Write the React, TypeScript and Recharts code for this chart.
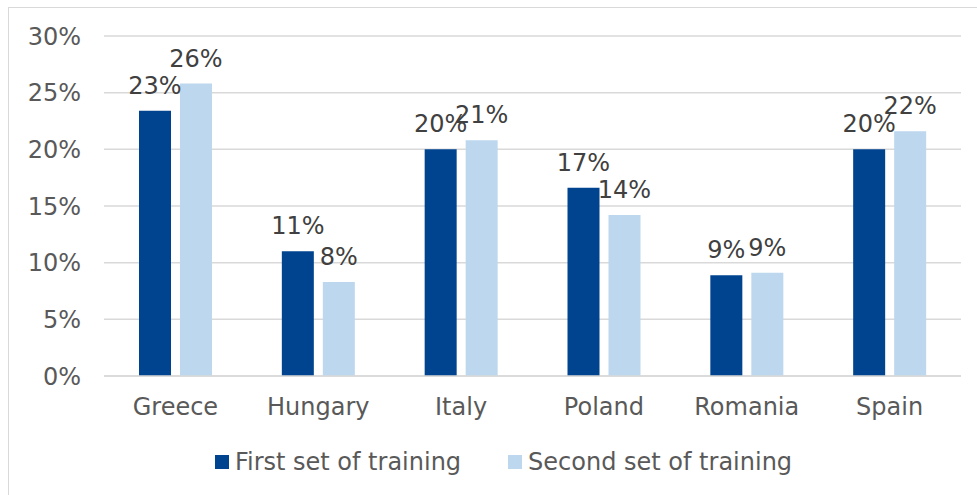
import { BarChart, Bar, XAxis, YAxis, CartesianGrid, Legend, LabelList } from "recharts";

// valori (percentuali)
const countries = ["Greece", "Hungary", "Italy", "Poland", "Romania", "Spain"];
const firstSet = [23.4, 11.0, 20.0, 16.6, 8.9, 20.0];
const secondSet = [25.8, 8.3, 20.8, 14.2, 9.1, 21.6];
const yTicks = [0, 5, 10, 15, 20, 25, 30];

const data = countries.map((name, i) => ({ name, first: firstSet[i], second: secondSet[i] }));

const DARK = "#00448f";
const LIGHT = "#bdd7ee";
const FONT = "'DejaVu Sans', Verdana, sans-serif";
const FS = 24;

function LegendBox() {
  const items = [
    { label: "First set of training", color: DARK },
    { label: "Second set of training", color: LIGHT },
  ];
  return (
    <div
      style={{
        height: 30,
        display: "flex",
        justifyContent: "center",
        alignItems: "center",
        gap: 47,
        fontFamily: FONT,
        fontSize: FS,
        color: "#595959",
        paddingLeft: 46,
      }}
    >
      {items.map((it) => (
        <div key={it.label} style={{ display: "flex", alignItems: "center", gap: 6 }}>
          <div style={{ width: 14, height: 14, background: it.color }} />
          <span>{it.label}</span>
        </div>
      ))}
    </div>
  );
}

export default function App() {
  return (
    <div style={{ position: "absolute", left: 0, top: 0, width: 977, height: 495, overflow: "hidden", background: "#fff" }}>
      <div
        style={{
          position: "absolute",
          left: 8,
          top: 7,
          width: 1000,
          height: 600,
          borderLeft: "1.5px solid #d9d9d9",
          borderTop: "1.5px solid #d9d9d9",
        }}
      />
      <div style={{ position: "absolute", left: 0, top: 0 }}>
        <BarChart
          width={977}
          height={495}
          data={data}
          margin={{ top: 36, right: 16, left: 0, bottom: 18 }}
          barSize={32}
          barGap={9}
        >
          <CartesianGrid vertical={false} stroke="#d9d9d9" strokeWidth={1.5} />
          <XAxis
            dataKey="name"
            height={71}
            axisLine={{ stroke: "#d9d9d9", strokeWidth: 1.5 }}
            tickLine={false}
            tickMargin={16}
            tick={{ fill: "#595959", fontSize: FS, fontFamily: FONT }}
          />
          <YAxis
            width={104}
            domain={[0, 30]}
            ticks={yTicks}
            axisLine={false}
            tickLine={false}
            tickMargin={17}
            tickFormatter={(v) => `${v}%`}
            tick={{ fill: "#595959", fontSize: FS, fontFamily: FONT }}
          />
          <Legend verticalAlign="bottom" content={() => <LegendBox />} />
          <Bar dataKey="first" name="First set of training" fill={DARK} isAnimationActive={false}>
            <LabelList
              dataKey="first"
              position="top"
              offset={17}
              formatter={(v: number) => `${Math.round(v)}%`}
              style={{ fill: "#404040", fontSize: FS, fontFamily: FONT }}
            />
          </Bar>
          <Bar dataKey="second" name="Second set of training" fill={LIGHT} isAnimationActive={false}>
            <LabelList
              dataKey="second"
              position="top"
              offset={17}
              formatter={(v: number) => `${Math.round(v)}%`}
              style={{ fill: "#404040", fontSize: FS, fontFamily: FONT }}
            />
          </Bar>
        </BarChart>
      </div>
    </div>
  );
}
